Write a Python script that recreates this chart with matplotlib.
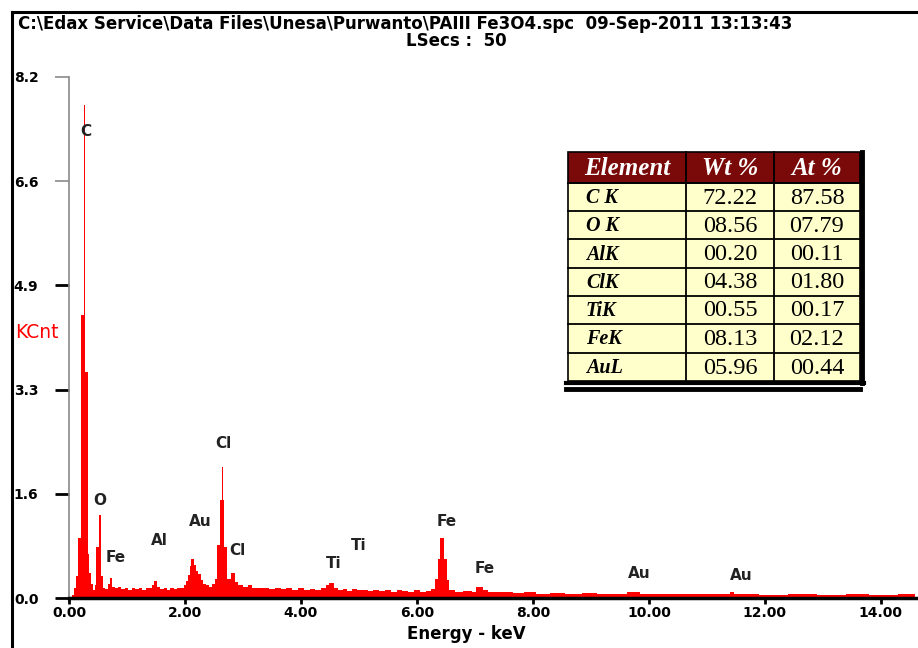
import numpy as np
import matplotlib
matplotlib.use("Agg")
import matplotlib.pyplot as plt
from matplotlib.lines import Line2D
from matplotlib.patches import Rectangle

# ********** Data *************************************************************

# left edge of each bin (keV) and its height (KCnt)
bin_left_kev = [
    0.00, 0.05, 0.09, 0.12, 0.16, 0.20, 0.26, 0.28, 0.32, 0.35,
    0.38, 0.41, 0.44, 0.47, 0.52, 0.55, 0.58, 0.62, 0.67, 0.70,
    0.74, 0.80, 0.85, 0.90, 0.96, 1.02, 1.08, 1.14, 1.20, 1.26,
    1.32, 1.38, 1.43, 1.46, 1.52, 1.57, 1.63, 1.69, 1.75, 1.81,
    1.87, 1.93, 1.98, 2.02, 2.05, 2.08, 2.11, 2.15, 2.19, 2.23,
    2.27, 2.31, 2.36, 2.42, 2.47, 2.52, 2.56, 2.60, 2.63, 2.65,
    2.68, 2.73, 2.80, 2.86, 2.92, 3.00, 3.08, 3.15, 3.25, 3.35,
    3.45, 3.55, 3.65, 3.75, 3.85, 3.95, 4.05, 4.15, 4.25, 4.35,
    4.43, 4.49, 4.57, 4.64, 4.72, 4.80, 4.88, 4.96, 5.05, 5.15,
    5.25, 5.35, 5.45, 5.55, 5.65, 5.75, 5.85, 5.95, 6.05, 6.15,
    6.25, 6.31, 6.36, 6.40, 6.46, 6.51, 6.56, 6.65, 6.80, 6.95,
    7.02, 7.14, 7.22, 7.35, 7.50, 7.65, 7.85, 8.05, 8.30, 8.55,
    8.85, 9.10, 9.40, 9.62, 9.84, 10.10, 10.50, 10.90, 11.40, 11.46,
    11.90, 12.40, 12.90, 13.40, 13.80, 14.30]
bin_counts = [
    0.00, 0.05, 0.15, 0.35, 0.95, 4.46, 7.76, 3.56, 0.70, 0.40,
    0.22, 0.12, 0.20, 0.80, 1.30, 0.35, 0.15, 0.14, 0.22, 0.32,
    0.18, 0.15, 0.17, 0.14, 0.16, 0.13, 0.15, 0.14, 0.16, 0.13,
    0.15, 0.16, 0.20, 0.27, 0.17, 0.14, 0.15, 0.13, 0.15, 0.14,
    0.16, 0.15, 0.20, 0.26, 0.36, 0.50, 0.62, 0.52, 0.42, 0.37,
    0.28, 0.22, 0.20, 0.18, 0.22, 0.30, 0.83, 1.54, 2.06, 1.54,
    0.80, 0.30, 0.39, 0.25, 0.20, 0.18, 0.20, 0.16, 0.15, 0.16,
    0.14, 0.16, 0.14, 0.15, 0.13, 0.15, 0.13, 0.14, 0.12, 0.15,
    0.21, 0.23, 0.16, 0.12, 0.14, 0.11, 0.14, 0.12, 0.13, 0.11,
    0.13, 0.11, 0.12, 0.10, 0.12, 0.11, 0.10, 0.12, 0.10, 0.11,
    0.14, 0.30, 0.62, 0.94, 0.62, 0.28, 0.13, 0.10, 0.11, 0.10,
    0.17, 0.12, 0.10, 0.09, 0.10, 0.08, 0.09, 0.07, 0.08, 0.07,
    0.08, 0.07, 0.07, 0.10, 0.07, 0.06, 0.07, 0.06, 0.09, 0.06,
    0.05, 0.06, 0.05, 0.06, 0.05, 0.06]
spectrum_end_kev = 14.58

# peak labels: element, energy (keV), height (KCnt)
peak_names = ["C", "O", "Fe", "Al", "Au", "Cl", "Cl", "Ti", "Ti", "Fe", "Fe", "Au", "Au"]
peak_kev = [0.29, 0.53, 0.81, 1.55, 2.26, 2.66, 2.90, 4.57, 5.00, 6.52, 7.16, 9.84, 11.59]
peak_kcnt = [7.35, 1.53, 0.63, 0.91, 1.21, 2.43, 0.74, 0.54, 0.82, 1.20, 0.47, 0.39, 0.36]

# quantification table
table_header = ["Element", "Wt %", "At %"]
table_elements = ["C K", "O K", "AlK", "ClK", "TiK", "FeK", "AuL"]
table_wt = ["72.22", "08.56", "00.20", "04.38", "00.55", "08.13", "05.96"]
table_at = ["87.58", "07.79", "00.11", "01.80", "00.17", "02.12", "00.44"]

title_line1 = "C:\\Edax Service\\Data Files\\Unesa\\Purwanto\\PAIII Fe3O4.spc  09-Sep-2011 13:13:43"
title_line2 = "LSecs :  50"

# ********** Figure ***********************************************************

W, H = 918, 648
plt.rcParams['font.family'] = ['DejaVu Sans']
fig = plt.figure(figsize=(W / 100, H / 100), dpi=100)

def fx(px):
    return px / W

def fy(py):
    return 1 - py / H

ax = fig.add_axes([fx(69), fy(598), fx(918 - 69), (598 - 77) / H])
edges = bin_left_kev + [spectrum_end_kev]
ax.stairs(bin_counts, edges, fill=True, color='#ff0000', lw=0)

ax.set_xlim(0, 14.64)
ax.set_ylim(0, 8.2)
ax.set_xticks(np.arange(0, 15, 2))
ax.set_xticklabels(["%.2f" % v for v in np.arange(0, 15, 2)])
ax.set_yticks(np.linspace(0, 8.2, 6))
ax.set_yticklabels(["%.1f" % v for v in np.linspace(0, 8.2, 6)])

for s in ['top', 'right']:
    ax.spines[s].set_visible(False)
ax.spines['left'].set_color('#8a8a8a')
ax.spines['left'].set_linewidth(1.2)
ax.spines['bottom'].set_color('black')
ax.spines['bottom'].set_linewidth(2.5)
ax.spines['bottom'].set_zorder(3)

ax.tick_params(axis='x', direction='out', length=4.5, width=2, color='black',
               labelsize=10, pad=1.5)
ax.tick_params(axis='y', direction='out', length=10, width=2, color='black',
               labelsize=10, pad=12)
for lab in ax.get_xticklabels() + ax.get_yticklabels():
    lab.set_fontweight('bold')
ticks = ax.yaxis.get_major_ticks()
for t in ticks[4:]:
    t.tick1line.set_markeredgecolor('#8a8a8a')
    t.tick1line.set_markeredgewidth(1.2)

for name, xk, yk in zip(peak_names, peak_kev, peak_kcnt):
    ax.text(xk, yk, name, ha='center', va='center', fontsize=11,
            fontweight='bold', color='#222222')

fig.text(fx(466), fy(634), "Energy - keV", fontsize=12, fontweight='bold',
         ha='center', va='center')
fig.text(fx(15), fy(332), "KCnt", color='#ff0000', fontsize=13.5, va='center')

# titles and frame
fig.text(fx(18), fy(24), title_line1, fontsize=12, fontweight='bold', va='center')
fig.text(fx(456), fy(41), title_line2, fontsize=12, fontweight='bold', va='center', ha='center')
fig.add_artist(Line2D([fx(12), 1], [fy(12), fy(12)], color='black', lw=2.2))
fig.add_artist(Line2D([fx(12), fx(12)], [fy(12), 0], color='black', lw=2.2))

# ********** Table ************************************************************

tx = [568, 686, 774, 860]
ty = [152, 183, 211, 239, 268, 296, 324, 353, 381]
tab = fig.add_axes([0, 0, 1, 1])
tab.set_xlim(0, W)
tab.set_ylim(H, 0)
tab.axis('off')

tab.add_patch(Rectangle((tx[0], ty[0]), tx[-1] - tx[0], ty[1] - ty[0],
                        facecolor='#7a0a0a', edgecolor='black', lw=1.2))
tab.add_patch(Rectangle((tx[0], ty[1]), tx[-1] - tx[0], ty[-1] - ty[1],
                        facecolor='#ffffcc', edgecolor='black', lw=1.2))
for y in ty[1:-1]:
    tab.plot([tx[0], tx[-1]], [y, y], color='black', lw=1.3)
for x in tx[1:-1]:
    tab.plot([x, x], [ty[0], ty[-1]], color='black', lw=1.3)
tab.plot([tx[-1] + 2, tx[-1] + 2], [ty[0], ty[-1] + 2], color='black', lw=3.5)
tab.plot([566, tx[-1] + 3.5], [ty[-1] + 1.5, ty[-1] + 1.5], color='black', lw=3)
tab.plot([566, tx[-1]], [389, 389], color='black', lw=3.5)

centers = [(tx[i] + tx[i + 1]) / 2 for i in range(3)]
for i, h in enumerate(table_header):
    tab.text(centers[i], (ty[0] + ty[1]) / 2 + 1, h, ha='center', va='center',
             family='Liberation Serif', fontsize=18, fontweight='bold',
             style='italic', color='white')
for r in range(len(table_elements)):
    yc = (ty[r + 1] + ty[r + 2]) / 2 + 1
    tab.text(586, yc, table_elements[r], ha='left', va='center',
             family='Liberation Serif', fontsize=14.5, fontweight='bold', style='italic')
    tab.text(centers[1], yc, table_wt[r], ha='center', va='center',
             family='Liberation Serif', fontsize=17.5)
    tab.text(centers[2], yc, table_at[r], ha='center', va='center',
             family='Liberation Serif', fontsize=17.5)

fig.savefig("out.png", dpi=100)
